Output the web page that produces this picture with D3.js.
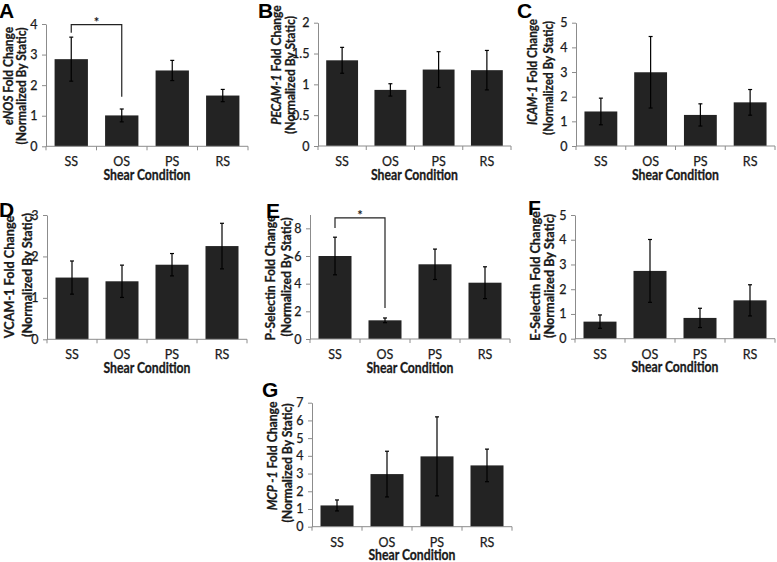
<!DOCTYPE html>
<html>
<head>
<meta charset="utf-8">
<script src="https://cdn.jsdelivr.net/npm/d3@7"></script>
<style>
  html, body { margin: 0; padding: 0; background: #fff; }
  svg { display: block; }
</style>
</head>
<body>
<svg id="chart" width="777" height="562"></svg>
<script>
// ---------- DATA ----------
const categories = ["SS", "OS", "PS", "RS"];

const eNOSMean  = [2.85, 1.01, 2.48, 1.66];
const eNOSErr   = [0.72, 0.21, 0.33, 0.20];
const eNOSTicks = [0, 1, 2, 3, 4];

const pecamMean  = [1.39, 0.91, 1.24, 1.23];
const pecamErr   = [0.21, 0.10, 0.29, 0.32];
const pecamTicks = [0, 0.5, 1, 1.5, 2];

const icamMean  = [1.40, 2.99, 1.26, 1.77];
const icamErr   = [0.54, 1.45, 0.45, 0.52];
const icamTicks = [0, 1, 2, 3, 4, 5];

const vcamMean  = [1.49, 1.40, 1.80, 2.25];
const vcamErr   = [0.40, 0.39, 0.27, 0.55];
const vcamTicks = [0, 1, 2, 3];

const pselMean  = [6.00, 1.35, 5.40, 4.07];
const pselErr   = [1.36, 0.17, 1.10, 1.15];
const pselTicks = [0, 2, 4, 6, 8];

const eselMean  = [0.69, 2.74, 0.84, 1.55];
const eselErr   = [0.27, 1.27, 0.39, 0.63];
const eselTicks = [0, 1, 2, 3, 4, 5];

const mcpMean  = [1.20, 2.97, 3.97, 3.46];
const mcpErr   = [0.31, 1.29, 2.23, 0.92];
const mcpTicks = [0, 1, 2, 3, 4, 5, 6, 7];

const xTitle = "Shear Condition";
const yTitle2 = "(Normalized By Static)";

// ---------- PANELS (layout) ----------
const panels = [
  { letter: "A", mean: eNOSMean, err: eNOSErr, ticks: eNOSTicks, max: 4,
    label: [{t: "eNOS", i: true}, {t: " Fold Change"}],
    x0: 46, x1: 248, y0: 146.3, yTop: 24, titleLen: 117,
    lx: [8, 21], ly: [76, 86], letterPos: [-1, 17.5],
    sig: { from: 0, to: 1, level: 3.98, left: 3.71, right: 1.62 } },
  { letter: "B", mean: pecamMean, err: pecamErr, ticks: pecamTicks, max: 2,
    label: [{t: "PECAM-1", i: true}, {t: " Fold Change"}],
    x0: 318, x1: 511, y0: 146, yTop: 22.7, titleLen: 118,
    lx: [276, 290], ly: [65, 75], letterPos: [258, 17.5] },
  { letter: "C", mean: icamMean, err: icamErr, ticks: icamTicks, max: 5,
    label: [{t: "ICAM-1", i: true}, {t: " Fold Change"}],
    x0: 576, x1: 775, y0: 146, yTop: 22.7, titleLen: 114,
    lx: [532, 548], ly: [72, 78], letterPos: [517, 17.5] },
  { letter: "D", mean: vcamMean, err: vcamErr, ticks: vcamTicks, max: 3,
    label: [{t: "VCAM-1 Fold Change"}],
    x0: 47, x1: 247, y0: 339.3, yTop: 215, titleLen: 124,
    lx: [9, 27], ly: [277, 275], letterPos: [-1, 217] },
  { letter: "E", mean: pselMean, err: pselErr, ticks: pselTicks, max: 9,
    label: [{t: "P-Selectin Fold Change"}],
    x0: 310, x1: 510, y0: 339, yTop: 214.5, titleLen: 119,
    lx: [270, 286], ly: [278, 277], letterPos: [266, 218],
    sig: { from: 0, to: 1, level: 8.75, left: 8.03, right: 2.24 } },
  { letter: "F", mean: eselMean, err: eselErr, ticks: eselTicks, max: 5,
    label: [{t: "E-Selectin Fold Change"}],
    x0: 575, x1: 775, y0: 338.7, yTop: 215, titleLen: 124,
    lx: [535, 549], ly: [276, 276], letterPos: [528, 215] },
  { letter: "G", mean: mcpMean, err: mcpErr, ticks: mcpTicks, max: 7,
    label: [{t: "MCP -1", i: true}, {t: " Fold Change"}],
    x0: 312, x1: 512, y0: 526.7, yTop: 402.7, titleLen: 119,
    lx: [272.5, 287.5], ly: [456, 463], letterPos: [262, 397] }
];

const FONT = "Lato, 'Open Sans', sans-serif";
const AXIS_COL = "#8c8c8c";
const BAR_COL = "#232323";
const TEXT_COL = "#1a1a1a";
const XTITLE_LEN = 87;

const svg = d3.select("#chart");

// compress a text horizontally to a target length; returns the ratio used
function squeeze(sel, target) {
  const len = sel.node().getComputedTextLength();
  sel.attr("textLength", target).attr("lengthAdjust", "spacingAndGlyphs");
  return target / len;
}

panels.forEach(p => {
  const g = svg.append("g");
  const x = d3.scaleBand().domain(categories).range([p.x0, p.x1])
    .paddingInner(0.34).paddingOuter(0.17);
  const y = d3.scaleLinear().domain([0, p.max]).range([p.y0, p.yTop]);
  const cx = d => x(d) + x.bandwidth() / 2;

  // bars
  g.selectAll("rect.bar").data(categories).enter().append("rect")
    .attr("x", d => x(d))
    .attr("width", x.bandwidth())
    .attr("y", (d, i) => y(p.mean[i]))
    .attr("height", (d, i) => y(0) - y(p.mean[i]))
    .attr("fill", BAR_COL);

  // y axis
  const yAxis = d3.axisLeft(y).tickValues(p.ticks).tickSize(4).tickSizeOuter(0)
    .tickFormat(d3.format("~g"));
  const ya = g.append("g").attr("transform", `translate(${p.x0},0)`).call(yAxis);
  ya.select(".domain").attr("stroke", AXIS_COL);
  ya.selectAll(".tick line").attr("stroke", AXIS_COL);
  ya.selectAll(".tick text").attr("font-family", FONT).attr("font-size", 12.5)
    .attr("fill", TEXT_COL).attr("stroke", TEXT_COL).attr("stroke-width", 0.25)
    .attr("x", -8.5);

  // x axis: line with ticks at category boundaries
  const xa = g.append("g");
  xa.append("line").attr("x1", p.x0).attr("x2", p.x1)
    .attr("y1", y(0)).attr("y2", y(0)).attr("stroke", AXIS_COL);
  const step = x.step();
  const bounds = d3.range(categories.length + 1).map(i => x(categories[0]) - step * 0.17 + i * step);
  xa.selectAll("line.xt").data(bounds).enter().append("line")
    .attr("x1", d => d).attr("x2", d => d)
    .attr("y1", y(0)).attr("y2", y(0) + 4).attr("stroke", AXIS_COL);
  xa.selectAll("text.xl").data(categories).enter().append("text")
    .attr("x", d => cx(d))
    .attr("y", y(0) + 20)
    .attr("text-anchor", "middle")
    .attr("font-family", FONT).attr("font-size", 12.5)
    .attr("fill", TEXT_COL).attr("stroke", TEXT_COL).attr("stroke-width", 0.25)
    .text(d => d);
  const xt = xa.append("text")
    .attr("x", (p.x0 + p.x1) / 2).attr("y", y(0) + 33.5)
    .attr("text-anchor", "middle")
    .attr("font-family", FONT).attr("font-size", 14.5).attr("font-weight", "bold")
    .attr("fill", TEXT_COL).attr("stroke", TEXT_COL).attr("stroke-width", 0.3)
    .text(xTitle);
  squeeze(xt, XTITLE_LEN);

  // error bars
  const eb = g.selectAll("g.err").data(categories).enter().append("g");
  eb.append("line")
    .attr("x1", cx).attr("x2", cx)
    .attr("y1", (d, i) => y(p.mean[i] + p.err[i]))
    .attr("y2", (d, i) => y(p.mean[i] - p.err[i]))
    .attr("stroke", "#000").attr("stroke-width", 1.2);
  [1, -1].forEach(s => {
    eb.append("line")
      .attr("x1", d => cx(d) - 2).attr("x2", d => cx(d) + 2)
      .attr("y1", (d, i) => y(p.mean[i] + s * p.err[i]))
      .attr("y2", (d, i) => y(p.mean[i] + s * p.err[i]))
      .attr("stroke", "#000").attr("stroke-width", 1.2);
  });

  // y axis title (two lines)
  const TFS = 13;
  const t2 = g.append("text")
    .attr("transform", `translate(${p.lx[1] + 4.5},${p.ly[1]}) rotate(-90)`)
    .attr("text-anchor", "middle")
    .attr("font-family", FONT).attr("font-size", TFS).attr("font-weight", "bold")
    .attr("fill", TEXT_COL).attr("stroke", TEXT_COL).attr("stroke-width", 0.3)
    .text(yTitle2);
  const ratio = squeeze(t2, p.titleLen);
  const t1 = g.append("text")
    .attr("transform", `translate(${p.lx[0] + 4.5},${p.ly[0]}) rotate(-90)`)
    .attr("text-anchor", "middle")
    .attr("font-family", FONT).attr("font-size", TFS).attr("font-weight", "bold")
    .attr("fill", TEXT_COL).attr("stroke", TEXT_COL).attr("stroke-width", 0.3);
  p.label.forEach(part => {
    t1.append("tspan").attr("font-style", part.i ? "italic" : "normal").text(part.t);
  });
  squeeze(t1, t1.node().getComputedTextLength() * ratio);

  // panel letter
  g.append("text")
    .attr("x", p.letterPos[0]).attr("y", p.letterPos[1])
    .attr("font-family", "'Liberation Sans', Arial, sans-serif")
    .attr("font-size", 21).attr("font-weight", "bold").attr("fill", "#000")
    .text(p.letter);

  // significance bracket
  if (p.sig) {
    const xa1 = cx(categories[p.sig.from]);
    const xa2 = cx(categories[p.sig.to]);
    g.append("path")
      .attr("d", `M${xa1},${y(p.sig.left)}V${y(p.sig.level)}H${xa2}V${y(p.sig.right)}`)
      .attr("fill", "none").attr("stroke", "#222").attr("stroke-width", 1.2);
    g.append("text")
      .attr("x", (xa1 + xa2) / 2).attr("y", y(p.sig.level) + 2)
      .attr("text-anchor", "middle")
      .attr("font-family", FONT).attr("font-size", 13).attr("font-weight", "bold")
      .attr("fill", TEXT_COL).text("*");
  }
});
</script>
</body>
</html>
